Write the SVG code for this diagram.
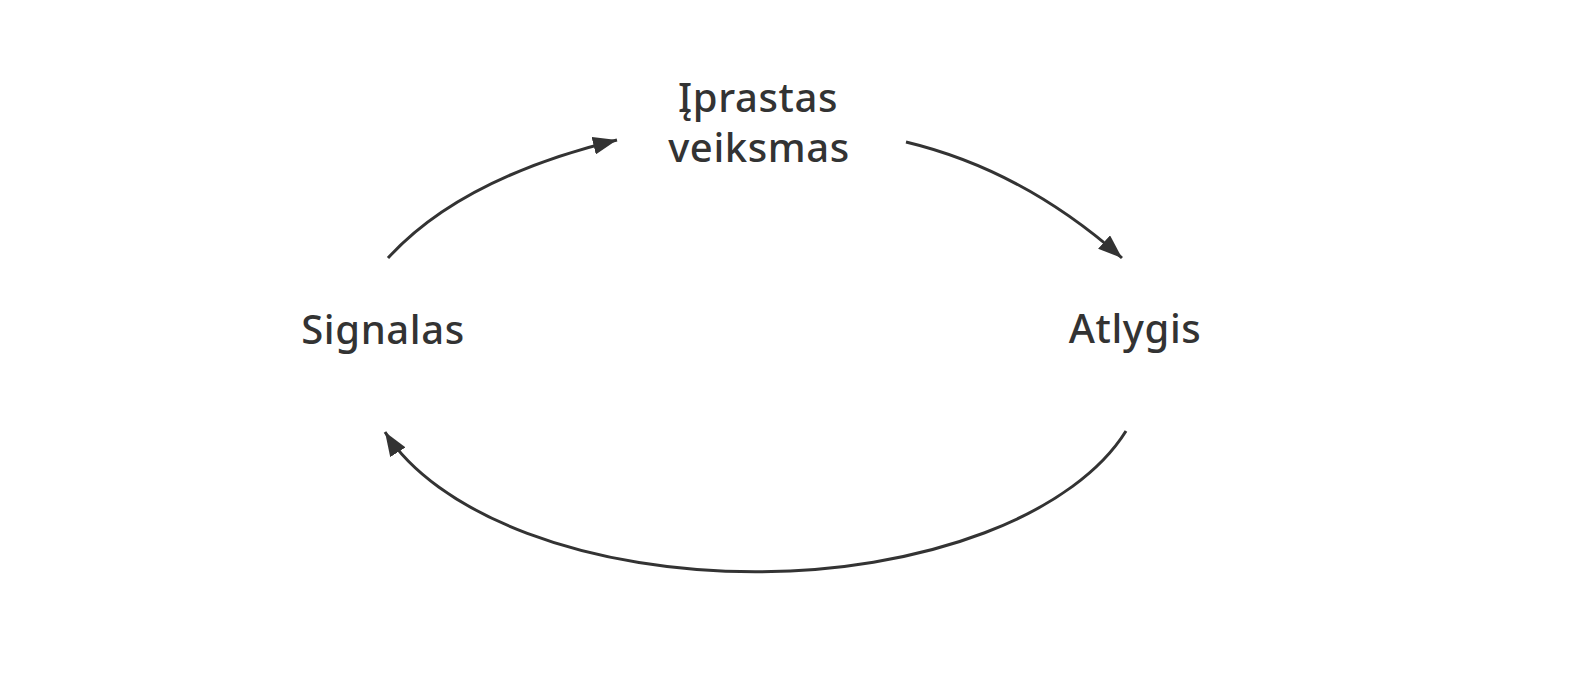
<svg xmlns="http://www.w3.org/2000/svg" width="1582" height="680" viewBox="0 0 1582 680">
<style>
.lbl{font-family:"Noto Sans","Liberation Sans",sans-serif;font-size:40px;font-weight:500;letter-spacing:0.6px;fill:#333;text-anchor:middle}
.conn{fill:none;stroke:#333;stroke-width:3}
</style>
<defs>
<marker id="ah" markerUnits="userSpaceOnUse" markerWidth="26" markerHeight="18" refX="24" refY="9" orient="auto">
<path d="M0,0 L24,9 L0,18 z" fill="#333"/>
</marker>
</defs>
<rect width="1582" height="680" fill="#fff"/>
<g id="connectors">
<path class="conn" d="M388,258 Q461,178 617,140" marker-end="url(#ah)"/>
<path class="conn" d="M906,142 Q1023,170 1122,258" marker-end="url(#ah)"/>
<path class="conn" d="M1126,431 A390,204 0 0,1 385,432" marker-end="url(#ah)"/>
</g>
<g id="node-iprastas">
<text class="lbl" x="758" y="112">Įprastas</text>
<text class="lbl" x="759" y="162">veiksmas</text>
</g>
<g id="node-signalas">
<text class="lbl" x="383" y="344">Signalas</text>
</g>
<g id="node-atlygis">
<text class="lbl" x="1135" y="343">Atlygis</text>
</g>
</svg>
